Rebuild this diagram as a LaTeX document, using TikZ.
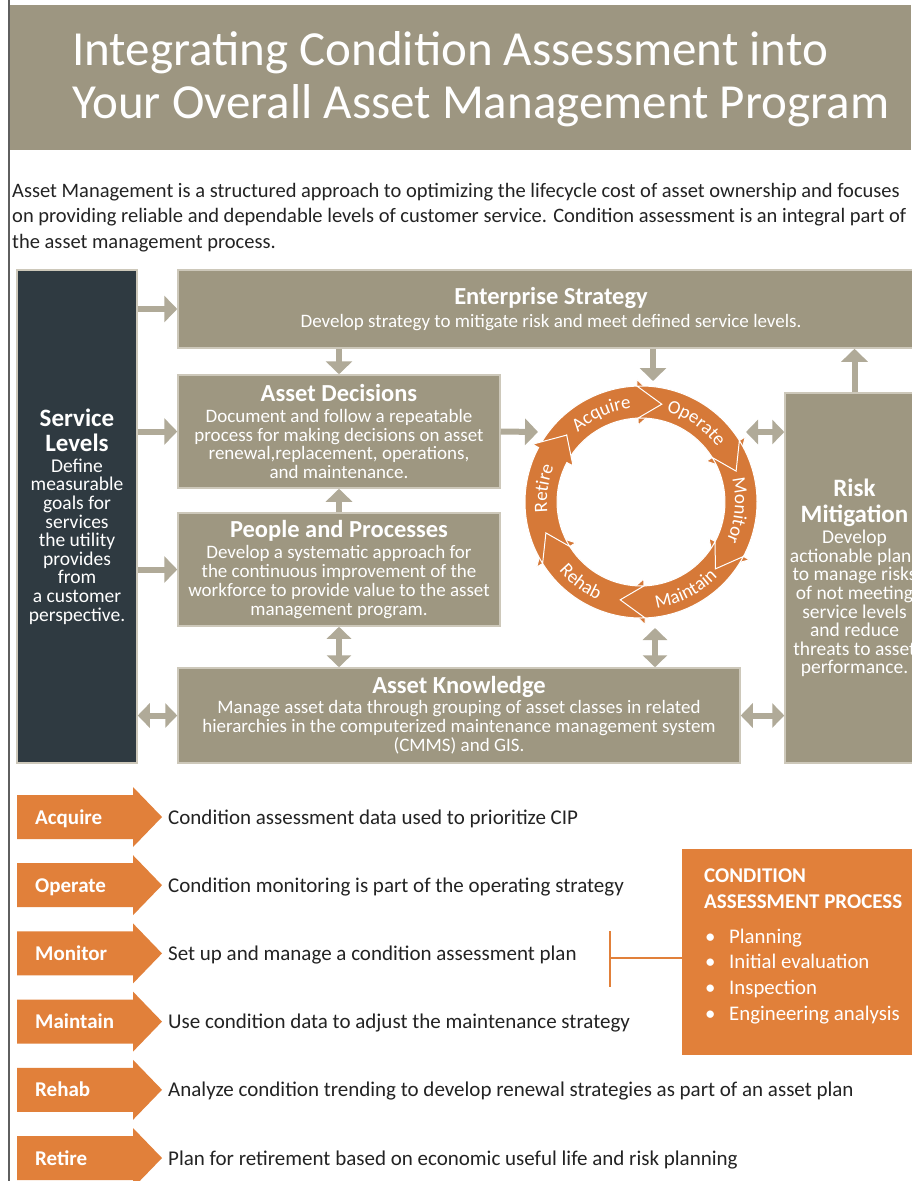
\documentclass[tikz,border=0pt]{standalone}
\usepackage{fontspec}
\setmainfont{Carlito}
\usetikzlibrary{arrows.meta,positioning,calc,decorations.text}

\definecolor{bandtan}{RGB}{157,150,129}
\definecolor{boxtan}{RGB}{158,151,129}
\definecolor{edgetan}{RGB}{205,200,186}
\definecolor{arrowtan}{RGB}{176,170,152}
\definecolor{slate}{RGB}{47,58,65}
\definecolor{cycorange}{RGB}{214,121,56}
\definecolor{tagorange}{RGB}{225,128,58}
\definecolor{inktext}{RGB}{35,35,35}
\definecolor{frameline}{RGB}{95,95,95}

\newcommand{\boxhead}{\fontsize{24.5}{26}\selectfont\bfseries}
\newcommand{\boxbody}{\fontsize{19}{18.9}\selectfont}
\newcommand{\sidehead}{\fontsize{25}{26}\selectfont\bfseries}
\newcommand{\sidebody}{\fontsize{19.5}{18.6}\selectfont}
\newcommand{\ringfont}{\fontsize{19}{19}\selectfont}

\begin{document}
\begin{tikzpicture}[
    x=1pt, y=-1pt,
    panel/.style={fill=boxtan, draw=edgetan, line width=1.5pt, text=white, align=center, inner sep=0pt, font=\boxbody},
    sidepanel/.style={panel, fill=slate, font=\sidebody},
    blk/.style={draw=arrowtan, line width=6pt, -{Triangle[length=13pt,width=26pt]}},
    dblk/.style={draw=arrowtan, line width=6pt, {Triangle[length=12pt,width=24pt]}-{Triangle[length=12pt,width=24pt]}},
    seg/.style={fill=cycorange, draw=white, line width=1pt},
    ringtext/.style={decorate, decoration={text along path, text align=center, text color=white, text={|\ringfont|#1}}},
    taglab/.style={text=white, font=\fontsize{21}{21}\selectfont\bfseries, anchor=base west, inner sep=0pt},
    desc/.style={text=inktext, font=\fontsize{21}{21}\selectfont, anchor=base west, inner sep=0pt},
    bullet/.style={text=white, font=\fontsize{20.8}{20.8}\selectfont, anchor=base west, inner sep=0pt},
    caphead/.style={text=white, font=\fontsize{21}{21}\selectfont\bfseries, anchor=base west, inner sep=0pt},
    intro/.style={text=inktext, font=\fontsize{20.5}{20.5}\selectfont, anchor=base west, inner sep=0pt}
  ]

    \useasboundingbox (0,0) rectangle (911,1181);
    \fill[white] (0,0) rectangle (911,1181);

    %------------------ Title band ------------------%
    \fill[bandtan] (9,5) rectangle (911,150);
    \draw[frameline, line width=2pt] (9,0) -- (9,1181);
    \node[anchor=base west, text=white, inner sep=0pt, font=\fontsize{49}{49}\selectfont] (ttl1) at (72,65) {Integrating Condition Assessment into};
    \node[anchor=base west, text=white, inner sep=0pt, font=\fontsize{49}{49}\selectfont] (ttl2) at (72,118) {Your Overall Asset Management Program};

    % Intro paragraph
    \node[intro] (intro1) at (12,197) {Asset Management is a structured approach to optimizing the lifecycle cost of asset ownership and focuses};
    \node[intro] (intro2) at (12,222.5) {on providing reliable and dependable levels of customer service. Condition assessment is an integral part of};
    \node[intro] (intro3) at (12,248) {the asset management process.};

    %------------------ Framework boxes ------------------%
    \node[sidepanel, minimum width=120pt, minimum height=493pt] (sl) at (77,516.5)
      {{\sidehead Service}\\[6.4pt]{\sidehead Levels}\\[2.4pt]Define\\measurable\\goals for\\services\\the utility\\provides\\from\\a customer\\perspective.};
    \node[panel, minimum width=746pt, minimum height=78pt] (es) at (551,309)
      {{\boxhead Enterprise Strategy}\\[4pt]Develop strategy to mitigate risk and meet defined service levels.};
    \node[panel, minimum width=322pt, minimum height=113pt] (ad) at (339,431.5)
      {{\boxhead Asset Decisions}\\[2pt]Document and follow a repeatable\\process for making decisions on asset\\renewal,replacement, operations,\\and maintenance.};
    \node[panel, minimum width=322pt, minimum height=113pt] (pp) at (339,569.5)
      {{\boxhead People and Processes}\\[2pt]Develop a systematic approach for\\the continuous improvement of the\\workforce to provide value to the asset\\management program.};
    \node[panel, minimum width=562pt, minimum height=95pt] (ak) at (459,715.5)
      {{\boxhead Asset Knowledge}\\[1pt]Manage asset data through grouping of asset classes in related\\hierarchies in the computerized maintenance management system\\(CMMS) and GIS.};
    \node[panel, minimum width=139pt, minimum height=370pt, font=\sidebody] (rm) at (854.5,578)
      {{\sidehead Risk}\\[7.4pt]{\sidehead Mitigation}\\[2.4pt]Develop\\actionable plans\\to manage risks\\of not meeting\\service levels\\and reduce\\threats to asset\\performance.};

    %------------------ Lifecycle ring ------------------%
    \node[circle, minimum size=232pt, inner sep=0pt] (cyc) at (641,502) {};
    \begin{scope}[shift={(641,502)}, y=1pt]
      \foreach \tip [count=\k] in {78, 18, -42, -102, -162, -222}{
        \pgfmathsetmacro{\aout}{\tip+74}
        \pgfmathsetmacro{\abase}{\tip+14}
        \pgfmathsetmacro{\anotch}{\tip+60}
        \filldraw[seg] (\aout:116) arc[start angle=\aout, end angle=\abase, radius=116] -- (\abase:123) -- (\tip:100) -- (\abase:77) -- (\abase:84) arc[start angle=\abase, end angle=\aout, radius=84] -- (\anotch:100) -- cycle;
      }
      % stage names along the ring
      \path[ringtext=Acquire] (144:94) arc[start angle=144, end angle=84, radius=94];
      \path[ringtext=Operate] (85:94) arc[start angle=85, end angle=25, radius=94];
      \path[ringtext=Monitor] (25:94) arc[start angle=25, end angle=-35, radius=94];
      \path[ringtext=Maintain] (-98:107) arc[start angle=-98, end angle=-28, radius=107];
      \path[ringtext=Rehab] (-157:107) arc[start angle=-157, end angle=-97, radius=107];
      \path[ringtext=Retire] (-158:94) arc[start angle=-158, end angle=-218, radius=94];
    \end{scope}
    \coordinate (cycW) at (538,432);
    \coordinate (cycN) at (653,381);
    \coordinate (cycS) at (655,628);
    \coordinate (cycE) at (746,432);

    % Connectors
    \draw[blk] (sl.east |- es.west) -- (es.west);
    \draw[blk] (sl.east |- ad.west) -- (ad.west);
    \draw[blk] (sl.east |- pp.west) -- (pp.west);
    \draw[dblk] (sl.east |- ak.west) -- (ak.west);
    \draw[blk] (es.south -| ad.north) -- (ad.north);
    \draw[blk] (pp.north) -- (ad.south);
    \draw[dblk] (pp.south) -- (ak.north -| pp.south);
    \draw[blk] (ad.east) -- (cycW);
    \draw[blk] (es.south -| cycN) -- (cycN);
    \draw[dblk] (cycS) -- (ak.north -| cycS);
    \draw[dblk] (cycE) -- (rm.west |- cycE);
    \draw[blk] (rm.north) -- (es.south -| rm.north);
    \draw[dblk] (ak.east) -- (rm.west |- ak.east);

    %------------------ Stage list ------------------%
    \foreach \stage/\what [count=\i] in {
        Acquire/Condition assessment data used to prioritize CIP,
        Operate/Condition monitoring is part of the operating strategy,
        Monitor/Set up and manage a condition assessment plan,
        Maintain/Use condition data to adjust the maintenance strategy,
        Rehab/Analyze condition trending to develop renewal strategies as part of an asset plan,
        Retire/Plan for retirement based on economic useful life and risk planning}{
      \pgfmathsetmacro{\yy}{817+68.2*(\i-1)}
      \fill[tagorange] (17,\yy-22) -- (133,\yy-22) -- (133,\yy-30) -- (162,\yy) -- (133,\yy+30) -- (133,\yy+22) -- (17,\yy+22) -- cycle;
      \node[taglab] (tag\i) at (35,\yy+7) {\stage};
      \node[desc] (what\i) at (168,\yy+7) {\what};
    }

    % Condition assessment process box
    \node[fill=tagorange, minimum width=242pt, minimum height=206pt, inner sep=0pt] (cap) at (803,952) {};
    \node[caphead] (capttl1) at (704,882) {CONDITION};
    \node[caphead] (capttl2) at (704,908) {ASSESSMENT PROCESS};
    \foreach \step [count=\j] in {Planning, Initial evaluation, Inspection, Engineering analysis}{
      \pgfmathsetmacro{\yb}{943+25.7*(\j-1)}
      \node[bullet] (dot\j) at (705,\yb) {\textbullet};
      \node[bullet] (step\j) at (729,\yb) {\step};
    }
    \coordinate (brk) at (610,958);
    \draw[tagorange, line width=2pt] (610,931) -- (610,987);
    \draw[tagorange, line width=2pt] (brk) -- (cap.west |- brk);

  \end{tikzpicture}
\end{document}
